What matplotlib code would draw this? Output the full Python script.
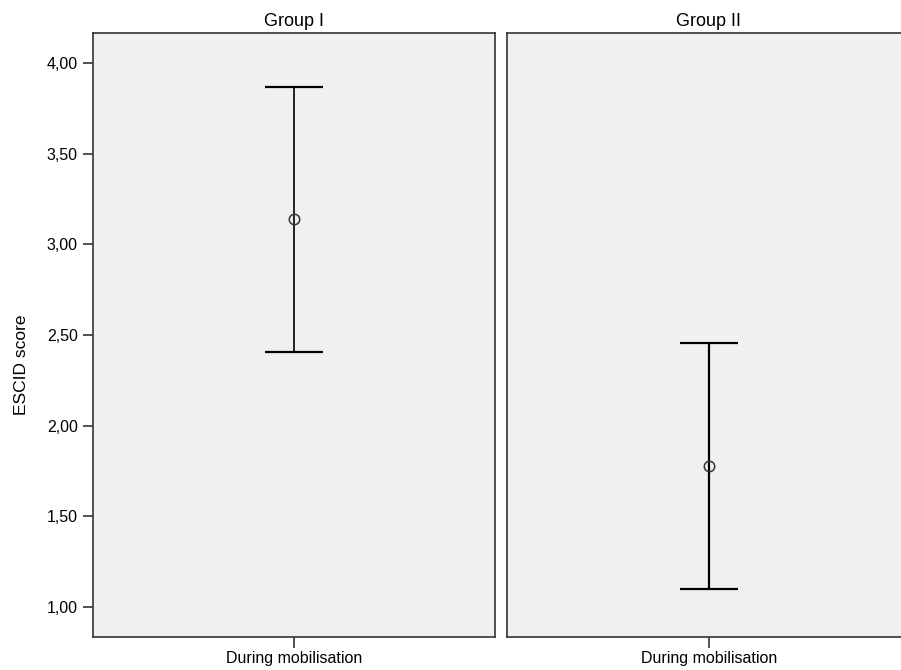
import matplotlib
matplotlib.use('Agg')
import matplotlib.pyplot as plt
from matplotlib.ticker import FuncFormatter

# data
groups = ["Group I", "Group II"]
category = "During mobilisation"
means = [3.14, 1.78]
upper = [3.87, 2.455]
lower = [2.405, 1.10]
yticks = [1.0, 1.5, 2.0, 2.5, 3.0, 3.5, 4.0]

plt.rcParams['font.family'] = ['Liberation Sans', 'DejaVu Sans']

W, H = 901, 670
fig = plt.figure(figsize=(W / 100, H / 100), dpi=100)

# panel boxes in pixels (left, top, right, bottom)
boxes = [(93, 33, 495, 637), (507, 33, 911, 637)]

for i, (name, box) in enumerate(zip(groups, boxes)):
    l, t, r, b = box
    ax = fig.add_axes([l / W, 1 - b / H, (r - l) / W, (b - t) / H])
    ax.set_facecolor('#f0f0f0')
    ax.set_ylim(0.835, 4.165)
    ax.set_xlim(-1, 1)
    err = [[means[i] - lower[i]], [upper[i] - means[i]]]
    ax.errorbar([0], [means[i]], yerr=err, fmt='none', ecolor='black',
                elinewidth=1.6 if i == 1 else 1.2, capsize=21, capthick=1.6)
    ax.plot([0], [means[i]], marker='o', markersize=7.5, markerfacecolor='none',
            markeredgecolor='#333333', markeredgewidth=1.1, linestyle='none')
    ax.set_xticks([0])
    ax.set_xticklabels([category], fontsize=11.5)
    ax.set_title(name, fontsize=13, pad=5)
    for s in ax.spines.values():
        s.set_color('#333333')
        s.set_linewidth(1.2)
    ax.tick_params(axis='x', length=8, width=1.2, color='#333333', pad=2)
    if i == 0:
        ax.set_yticks(yticks)
        ax.yaxis.set_major_formatter(FuncFormatter(lambda v, p: f"{v:.2f}".replace('.', ',')))
        ax.tick_params(axis='y', length=7, width=1.2, color='#333333', labelsize=11.5, pad=4)
        ax.set_ylabel("ESCID score", fontsize=12.5)
        ax.yaxis.set_label_coords(-0.158, 0.45)
    else:
        ax.set_yticks([])

fig.savefig("out.png", dpi=100)
